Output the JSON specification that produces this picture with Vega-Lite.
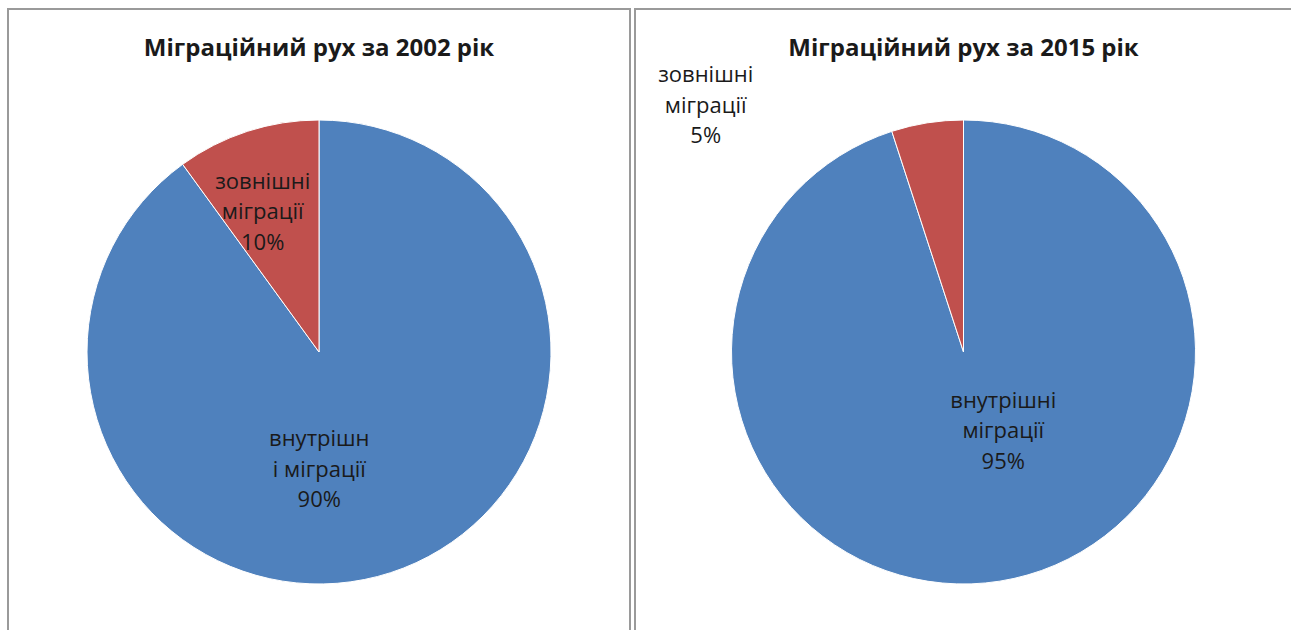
{
  "$schema": "https://vega.github.io/schema/vega-lite/v6.json",
  "padding": {"left": 7, "top": 8, "right": 0, "bottom": 0},
  "spacing": 3,
  "config": {
    "view": {"stroke": "#9a9a9a", "strokeWidth": 2},
    "title": {"font": "Open Sans", "fontSize": 24, "fontWeight": "bold", "color": "#1a1a1a", "offset": -52, "anchor": "middle"},
    "text": {"font": "Open Sans", "fontSize": 22, "color": "#1a1a1a", "lineBreak": "\n", "lineHeight": 30.5}
  },
  "datasets": {
    "y2002": [
      {"category": "внутрішні міграції", "value": 90, "order": 1, "label": "внутрішн\nі міграції\n90%"},
      {"category": "зовнішні міграції", "value": 10, "order": 2, "label": "зовнішні\nміграції\n10%"}
    ],
    "y2015": [
      {"category": "внутрішні міграції", "value": 95, "order": 1, "label": "внутрішні\nміграції\n95%"},
      {"category": "зовнішні міграції", "value": 5, "order": 2, "label": "зовнішні\nміграції\n5%"}
    ]
  },
  "hconcat": [
    {
      "width": 622,
      "height": 686,
      "view": {"stroke": "#9a9a9a", "strokeWidth": 2},
      "title": "Міграційний рух за 2002 рік",
      "data": {"name": "y2002"},
      "encoding": {
        "theta": {"field": "value", "type": "quantitative", "stack": true},
        "order": {"field": "order", "type": "ordinal"},
        "color": {"field": "category", "type": "nominal", "legend": null,
          "scale": {"domain": ["внутрішні міграції", "зовнішні міграції"], "range": ["#4f81bd", "#c0504d"]}}
      },
      "layer": [
        {"mark": {"type": "arc", "outerRadius": 232, "stroke": "#ffffff", "strokeWidth": 1}},
        {
          "mark": {"type": "text", "radius": 179, "dx": -1, "align": "center", "baseline": "middle"},
          "encoding": {"text": {"condition": {"test": "datum.order == 2", "field": "label"}, "value": ""}, "color": {"value": "#1a1a1a"}}
        },
        {
          "mark": {"type": "text", "radius": 91.5, "dx": -28, "align": "center", "baseline": "middle"},
          "encoding": {"text": {"condition": {"test": "datum.order == 1", "field": "label"}, "value": ""}, "color": {"value": "#1a1a1a"}}
        }
      ]
    },
    {
      "width": 657,
      "height": 686,
      "view": {"stroke": "#9a9a9a", "strokeWidth": 2},
      "title": "Міграційний рух за 2015 рік",
      "data": {"name": "y2015"},
      "encoding": {
        "theta": {"field": "value", "type": "quantitative", "stack": true},
        "order": {"field": "order", "type": "ordinal"},
        "color": {"field": "category", "type": "nominal", "legend": null,
          "scale": {"domain": ["внутрішні міграції", "зовнішні міграції"], "range": ["#4f81bd", "#c0504d"]}}
      },
      "layer": [
        {"mark": {"type": "arc", "outerRadius": 232, "stroke": "#ffffff", "strokeWidth": 1}},
        {
          "mark": {"type": "text", "radius": 280, "dx": -214, "align": "center", "baseline": "middle"},
          "encoding": {"text": {"condition": {"test": "datum.order == 2", "field": "label"}, "value": ""}, "color": {"value": "#1a1a1a"}}
        },
        {
          "mark": {"type": "text", "radius": 49.6, "dx": 32, "align": "center", "baseline": "middle"},
          "encoding": {"text": {"condition": {"test": "datum.order == 1", "field": "label"}, "value": ""}, "color": {"value": "#1a1a1a"}}
        }
      ]
    }
  ]
}
